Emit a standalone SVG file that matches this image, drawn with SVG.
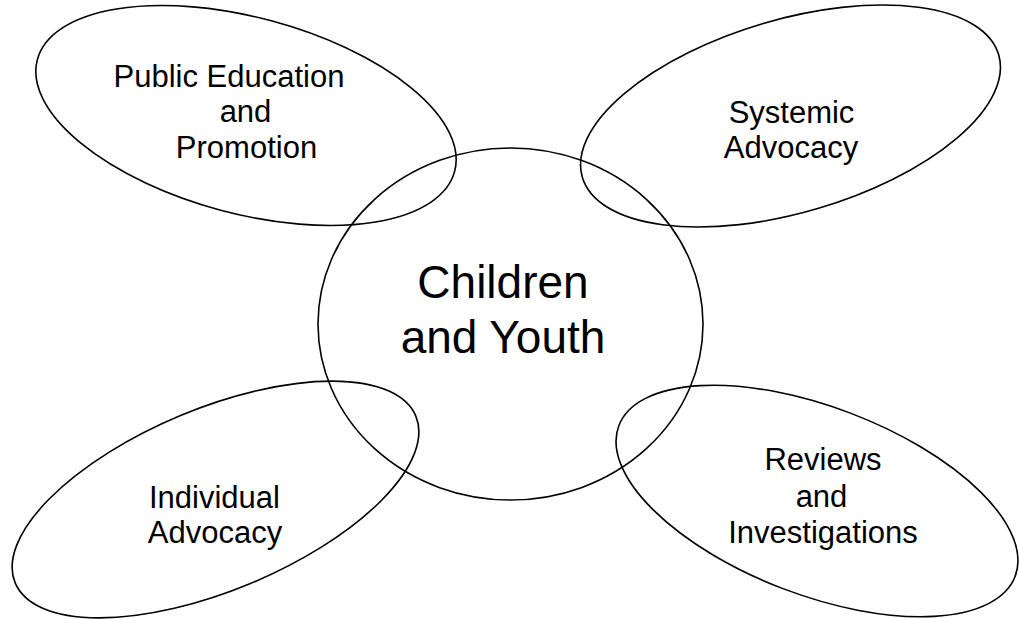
<svg xmlns="http://www.w3.org/2000/svg" width="1019" height="619" viewBox="0 0 1019 619">
<style>
.shape{fill:none;stroke:#000;stroke-width:1.6}
.lbl{font-family:"Liberation Sans",Arial,sans-serif;font-size:31px;fill:#000;text-anchor:middle}
.big{font-family:"Liberation Sans",Arial,sans-serif;font-size:46px;fill:#000;text-anchor:middle}
</style>
<rect width="1019" height="619" fill="#fff"/>
<g id="connectors"/>
<g id="node-center">
<ellipse class="shape" cx="510.5" cy="324" rx="192.5" ry="176"/>
<text class="big" x="503" y="298">Children</text>
<text class="big" x="503" y="353">and Youth</text>
</g>
<g id="node-public-education">
<ellipse class="shape" cx="246" cy="115.5" rx="216" ry="98" transform="rotate(15 246 115.5)"/>
<text class="lbl" x="229" y="87">Public Education</text>
<text class="lbl" x="245.5" y="122">and</text>
<text class="lbl" x="246.5" y="158">Promotion</text>
</g>
<g id="node-systemic">
<ellipse class="shape" cx="790.5" cy="116" rx="217" ry="96.5" transform="rotate(-16.4 790.5 116)"/>
<text class="lbl" x="791.5" y="123">Systemic</text>
<text class="lbl" x="791" y="158">Advocacy</text>
</g>
<g id="node-individual">
<ellipse class="shape" cx="215.5" cy="499.5" rx="217" ry="91" transform="rotate(-22.6 215.5 499.5)"/>
<text class="lbl" x="214.5" y="508">Individual</text>
<text class="lbl" x="215" y="543">Advocacy</text>
</g>
<g id="node-reviews">
<ellipse class="shape" cx="817" cy="501" rx="212" ry="94" transform="rotate(20.8 817 501)"/>
<text class="lbl" x="823" y="470">Reviews</text>
<text class="lbl" x="821.5" y="507">and</text>
<text class="lbl" x="823" y="543">Investigations</text>
</g>
</svg>
